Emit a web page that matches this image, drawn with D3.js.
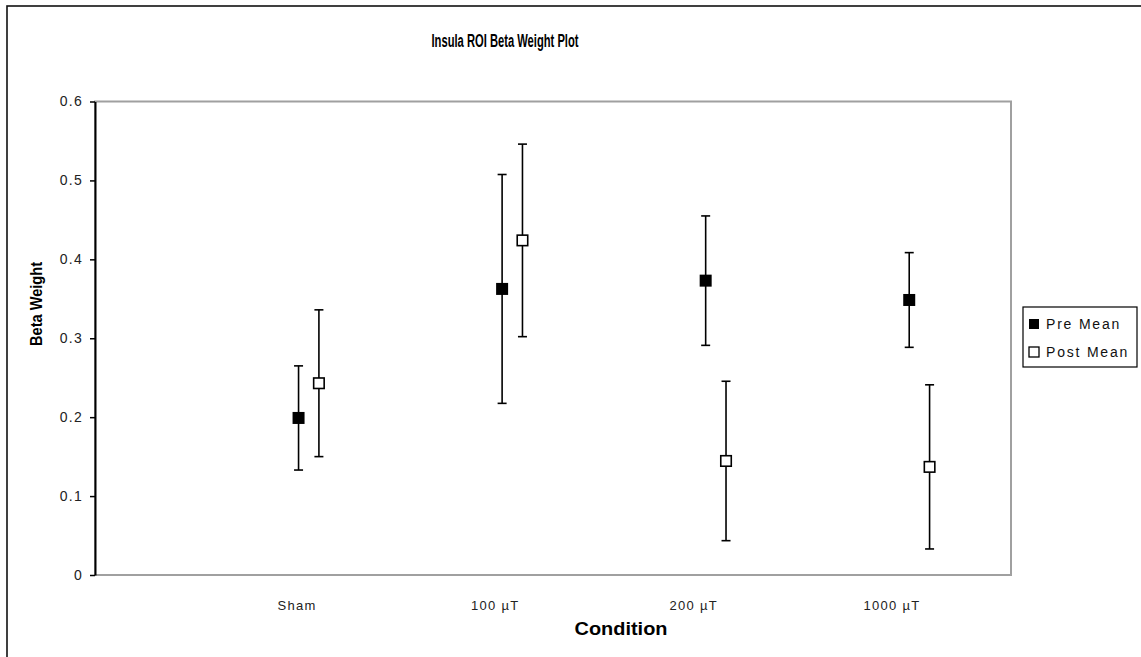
<!DOCTYPE html>
<html>
<head>
<meta charset="utf-8">
<script src="https://cdn.jsdelivr.net/npm/d3@7"></script>
<style>
  html, body { margin: 0; padding: 0; background: #fff; }
  svg { display: block; font-family: "Liberation Sans", Arial, sans-serif; }
</style>
</head>
<body>
<svg id="chart" width="1141" height="657"></svg>
<script>
// Condition groups and their x positions on the numeric axis
const categories = ["Sham", "100 \u00B5T", "200 \u00B5T", "1000 \u00B5T"];
const categoryX = [1, 2, 3, 4];
const postOffset = 0.1;

// Mean beta weights and error-bar half-widths
const preMean = [0.199, 0.3625, 0.373, 0.3485];
const preErr = [0.066, 0.145, 0.082, 0.060];
const postMean = [0.243, 0.424, 0.1445, 0.137];
const postErr = [0.093, 0.122, 0.101, 0.104];

const yTicks = [0, 0.1, 0.2, 0.3, 0.4, 0.5, 0.6];

const svg = d3.select("#chart");

// Outer chart frame
svg.append("rect")
  .attr("x", 7).attr("y", 6)
  .attr("width", 1145).attr("height", 670)
  .attr("fill", "#fff").attr("stroke", "#111").attr("stroke-width", 1.6);

const plot = { left: 95, right: 1011, top: 101.5, bottom: 575 };

const x = d3.scaleLinear().domain([0, 4.5]).range([plot.left, plot.right]);
const y = d3.scaleLinear().domain([0, 0.6]).range([plot.bottom, plot.top]);
// Category label positions along the bottom
const xLabel = d3.scalePoint().domain(categories).range([297, 892]);

// Plot area border
svg.append("rect")
  .attr("x", plot.left).attr("y", plot.top)
  .attr("width", plot.right - plot.left).attr("height", plot.bottom - plot.top)
  .attr("fill", "none").attr("stroke", "#a0a0a0").attr("stroke-width", 2);

// Y axis
const yAxis = d3.axisLeft(y)
  .tickValues(yTicks)
  .tickFormat(d => d === 0 ? "0" : d3.format(".1f")(d))
  .tickSizeInner(5).tickSizeOuter(0).tickPadding(7);

const yg = svg.append("g")
  .attr("transform", `translate(${plot.left},0)`)
  .call(yAxis);
yg.select(".domain").attr("stroke", "#000").attr("stroke-width", 2);
yg.selectAll(".tick line").attr("stroke", "#000").attr("stroke-width", 1.5);
yg.selectAll(".tick text")
  .attr("fill", "#222")
  .style("font-size", "14px")
  .style("letter-spacing", "1.3px")
  .style("font-family", "'Liberation Sans', Arial, sans-serif");

// X category labels
svg.append("g").selectAll("text")
  .data(categories)
  .join("text")
  .attr("x", d => xLabel(d))
  .attr("y", 610)
  .attr("text-anchor", "middle")
  .attr("fill", "#222")
  .style("font-size", "13px")
  .style("letter-spacing", "1.3px")
  .text(d => d);

// Titles
svg.append("text")
  .attr("x", 505).attr("y", 47)
  .attr("text-anchor", "middle")
  .attr("textLength", 147).attr("lengthAdjust", "spacingAndGlyphs")
  .style("font-size", "18px").style("font-weight", "bold")
  .text("Insula ROI Beta Weight Plot");

svg.append("text")
  .attr("x", 621).attr("y", 635)
  .attr("text-anchor", "middle")
  .attr("textLength", 93).attr("lengthAdjust", "spacingAndGlyphs")
  .style("font-size", "19px").style("font-weight", "bold")
  .text("Condition");

svg.append("text")
  .attr("transform", "translate(42,304) rotate(-90)")
  .attr("text-anchor", "middle")
  .attr("textLength", 84).attr("lengthAdjust", "spacingAndGlyphs")
  .style("font-size", "17px").style("font-weight", "bold")
  .text("Beta Weight");

// Error bars and markers for one series
function drawSeries(means, errs, offset, filled) {
  const g = svg.append("g");
  const data = means.map((m, i) => ({ x: categoryX[i] + offset, m, e: errs[i] }));
  const capW = 4.5;
  g.selectAll("line.stem").data(data).join("line")
    .attr("x1", d => x(d.x)).attr("x2", d => x(d.x))
    .attr("y1", d => y(d.m + d.e)).attr("y2", d => y(d.m - d.e))
    .attr("stroke", "#000").attr("stroke-width", 1.6);
  g.selectAll("line.capTop").data(data).join("line")
    .attr("x1", d => x(d.x) - capW).attr("x2", d => x(d.x) + capW)
    .attr("y1", d => y(d.m + d.e)).attr("y2", d => y(d.m + d.e))
    .attr("stroke", "#000").attr("stroke-width", 1.6);
  g.selectAll("line.capBot").data(data).join("line")
    .attr("x1", d => x(d.x) - capW).attr("x2", d => x(d.x) + capW)
    .attr("y1", d => y(d.m - d.e)).attr("y2", d => y(d.m - d.e))
    .attr("stroke", "#000").attr("stroke-width", 1.6);
  const s = filled ? 12 : 10.5;
  g.selectAll("rect").data(data).join("rect")
    .attr("x", d => x(d.x) - s / 2).attr("y", d => y(d.m) - s / 2)
    .attr("width", s).attr("height", s)
    .attr("fill", filled ? "#000" : "#fff")
    .attr("stroke", "#000").attr("stroke-width", filled ? 0 : 1.6);
}

drawSeries(preMean, preErr, 0, true);
drawSeries(postMean, postErr, postOffset, false);

// Legend
const lg = svg.append("g");
lg.append("rect")
  .attr("x", 1023).attr("y", 307).attr("width", 114).attr("height", 60)
  .attr("fill", "#fff").attr("stroke", "#000").attr("stroke-width", 1.2);
const legendItems = [
  { label: "Pre Mean", filled: true },
  { label: "Post Mean", filled: false }
];
legendItems.forEach((it, i) => {
  const cy = 324 + i * 28;
  lg.append("rect")
    .attr("x", 1029).attr("y", cy - 5).attr("width", 10).attr("height", 10)
    .attr("fill", it.filled ? "#000" : "#fff")
    .attr("stroke", "#000").attr("stroke-width", it.filled ? 0 : 1.3);
  lg.append("text")
    .attr("x", 1046).attr("y", cy + 5)
    .attr("fill", "#111")
    .style("font-size", "14px")
    .style("letter-spacing", "1.8px")
    .text(it.label);
});
</script>
</body>
</html>
